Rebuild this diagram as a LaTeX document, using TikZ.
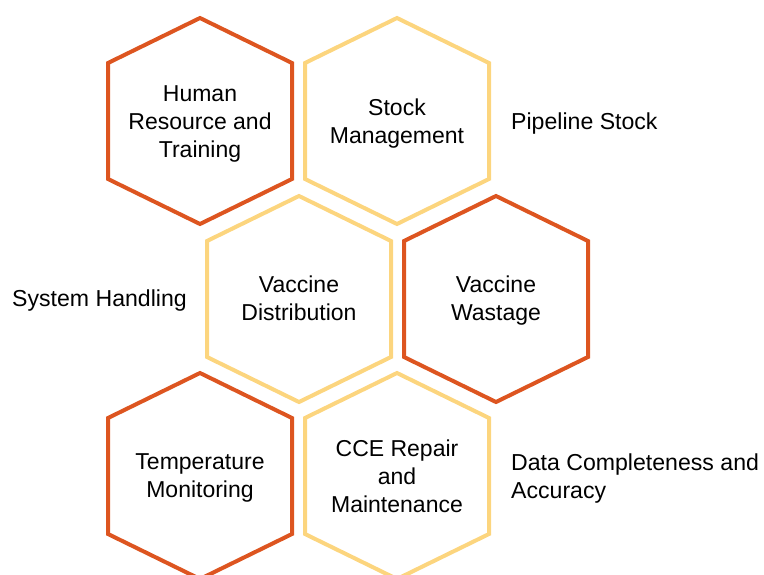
\documentclass[tikz,border=0pt]{standalone}
\usepackage{fontspec}
\setmainfont{Liberation Sans}
\usepackage{xcolor}
\definecolor{rust}{HTML}{DD5520}
\definecolor{sand}{HTML}{FCD57E}
\newcommand{\hexcell}[3]{\draw[#3,shift={(#1,#2)}] (0,-103) -- (92,-58) -- (92,58) -- (0,103) -- (-92,58) -- (-92,-58) -- cycle;}

\begin{document}
\begin{tikzpicture}[x=1pt,y=-1pt,
		dark/.style={rust,line width=4pt,line join=miter},
		light/.style={sand,line width=4pt,line join=miter},
		cell/.style={align=center,font=\fontsize{23}{28}\selectfont,inner sep=0pt},
		side/.style={align=left,font=\fontsize{23.1}{28}\selectfont,inner sep=0pt,anchor=west}]
		\useasboundingbox (0,0) rectangle (764,574);
		\hexcell{200}{121}{dark}
		\hexcell{397}{121}{light}
		\hexcell{299}{299}{light}
		\hexcell{496}{299}{dark}
		\hexcell{200}{476}{dark}
		\hexcell{397}{476}{light}
		\node[cell] (hr) at (200,124) {Human\\Resource and\\Training};
		\node[cell] (sm) at (397,123.5) {Stock\\Management};
		\node[cell] (vd) at (299,298.5) {Vaccine\\Distribution};
		\node[cell] (vw) at (496,300.5) {Vaccine\\Wastage};
		\node[cell] (tm) at (200,477.5) {Temperature\\Monitoring};
		\node[cell] (cce) at (397,476) {CCE Repair\\and\\Maintenance};
		\node[side] (ps) at (511,123.5) {Pipeline Stock};
		\node[side] (sh) at (12,300.5) {System Handling};
		\node[side] (dc) at (511,478.5) {Data Completeness and\\Accuracy};
		\end{tikzpicture}
\end{document}
